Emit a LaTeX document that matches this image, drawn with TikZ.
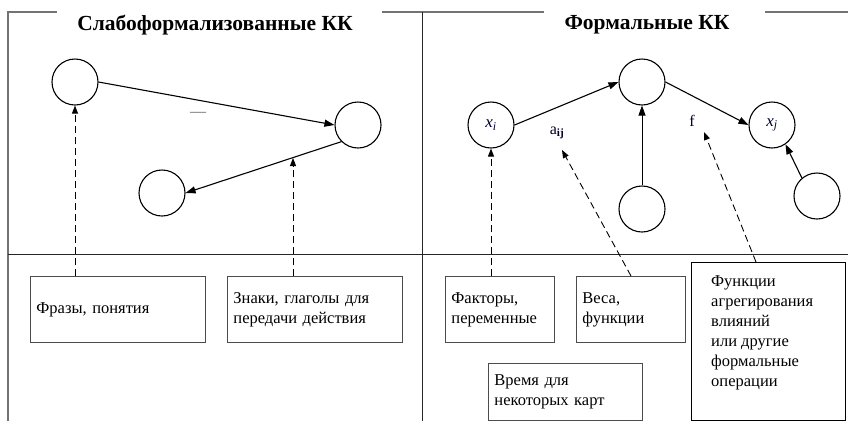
\documentclass[tikz,border=0pt]{standalone}
\usepackage{fontspec}
\setmainfont{Liberation Serif}
\usetikzlibrary{arrows.meta}
\tikzset{
  state/.style={circle, draw, line width=1.1pt, minimum size=46pt, inner sep=0pt,
    font=\fontsize{17}{20}\selectfont, text=black!80!blue},
  link/.style={line width=1.1pt, -{Triangle[length=10pt,width=7pt]}},
  hint/.style={line width=0.9pt, dash pattern=on 7pt off 4pt, -{Triangle[length=8pt,width=6pt]}},
  note/.style={draw=black!70, line width=0.9pt, rectangle, inner sep=6pt, align=left,
    font=\fontsize{16.5}{20}\selectfont, anchor=north west},
  frame/.style={black!55, line width=1.2pt},
  divider/.style={black!85, line width=1pt},
  title/.style={font=\fontsize{21.5}{24}\selectfont\bfseries},
  tag/.style={font=\fontsize{16}{18}\selectfont, text=black!85!blue}
}
\begin{document}
\begin{tikzpicture}[x=1pt, y=-1pt]
\useasboundingbox (0,0) rectangle (848,421);

% outer frame pieces and dividers
\draw[frame] (8,421) -- (8,12) -- (57,12);
\draw[frame] (382,12) -- (544,12);
\draw[frame] (765,12) -- (848,12);
\draw[divider] (422.5,12) -- (422.5,421);
\draw[divider] (8,254) -- (848,254);

% titles
\node[title] (t1) at (215,25) {Слабоформализованные КК};
\node[title] (t2) at (647,25) {Формальные КК};

% weakly formalised map
\node[state] (a1) at (75,82) {};
\node[state] (a2) at (358,125) {};
\node[state] (a3) at (162,193) {};
\draw[link] (a1.east) -- (a2.west);
\draw[link] (a2.225) -- (a3.east);
\node[font=\fontsize{16}{18}\selectfont, text=black!60] (dash) at (198,114) {—};

% formal map
\node[state] (xi) at (491,125) {\textit{x}\textsubscript{\textit{i}}};
\node[state] (m)  at (642,82) {};
\node[state] (mb) at (642,209) {};
\node[state] (xj) at (772,125) {\textit{x}\textsubscript{\textit{j}}};
\node[state] (br) at (817,196) {};
\draw[link] (xi.east) -- (m.west);
\draw[link] (m.east) -- (xj.west);
\draw[link, line width=0.9pt] (mb.north) -- (m.south);
\draw[link] (br.130) -- (xj.-55);
\node[tag] (aij) at (557,133) {a\textsubscript{\textbf{ij}}};
\node[tag] (f) at (692,121) {f};

% explanation boxes
\node[note, minimum width=175pt, minimum height=66pt, text width=163pt] (b1) at (30,276) {Фразы, понятия};
\node[note, minimum width=175pt, minimum height=66pt, text width=163pt] (b2) at (227,276) {Знаки, глаголы для\\передачи действия};
\node[note, minimum width=109pt, minimum height=66pt, text width=97pt] (b3) at (445,276) {Факторы,\\переменные};
\node[note, minimum width=109pt, minimum height=66pt, text width=97pt] (b4) at (576,276) {Веса,\\функции};
\node[note, minimum width=154pt, minimum height=57pt, text width=142pt] (b5) at (488,363) {Время для\\некоторых карт};
\node[note, draw=black, line width=1.1pt, minimum width=154pt, minimum height=158pt,
  text width=134pt, inner xsep=10pt, inner ysep=0pt] (b6) at (691,262) {};
\node[font=\fontsize{16.5}{20}\selectfont, align=left, anchor=north west, inner sep=0pt]
  (b6text) at (711,275) {Функции\\агрегирования\\влияний\\или другие\\формальные\\операции};

% pointers from boxes
\coordinate (p2) at (293,158);
\coordinate (p4) at (562,150);
\coordinate (p6) at (704,132);
\draw[hint] (b1.north -| a1) -- (a1.south);
\draw[hint] (b2.north -| p2) -- (p2);
\draw[hint] (b3.north -| xi) -- (xi.south);
\draw[hint] (631,276) -- (p4);
\draw[hint] (756,262) -- (p6);
\end{tikzpicture}
\end{document}
